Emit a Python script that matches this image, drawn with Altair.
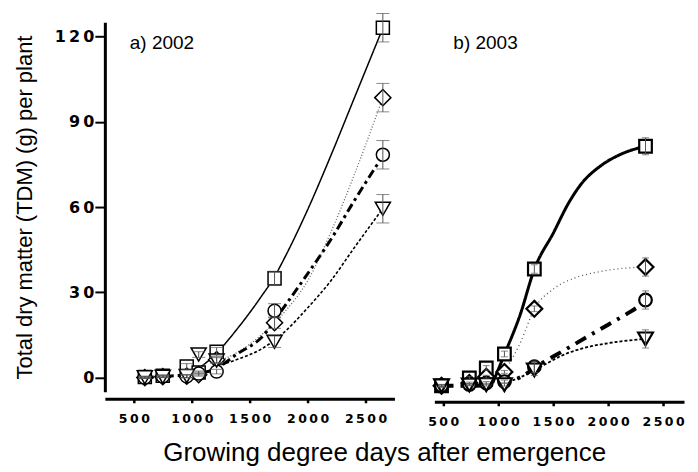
import altair as alt
import pandas as pd

# ---------------- a) 2002 : measured points ----------------
LEFT_GDD = [595, 750, 957, 1060, 1215, 1715, 2650]
L_SQUARE = [0.2, 0.6, 3.9, 1.8, 9.1, 34.9, 123.1]
L_SQUARE_ERR = [0.3, 0.4, 1.0, 0.5, 1.5, 2.5, 5.0]
L_DIAMOND = [0.0, 0.3, 0.5, 1.0, 6.3, 19.3, 98.5]
L_DIAMOND_ERR = [0.3, 0.3, 0.5, 0.5, 1.0, 2.0, 5.0]
L_CIRCLE = [0.0, 0.4, 0.4, 1.4, 2.1, 23.5, 78.4]
L_CIRCLE_ERR = [0.3, 0.3, 0.5, 0.5, 0.8, 2.5, 5.0]
L_TRIANGLE = [0.1, 0.3, 0.5, 8.1, 6.0, 12.6, 59.4]
L_TRIANGLE_ERR = [0.3, 0.3, 0.5, 1.0, 1.0, 2.0, 5.0]

# a) 2002 : fitted curves (read from the figure)
L_FIT_SQUARE_GDD = [1000, 1200, 1400, 1600, 1715, 1800, 2000, 2200, 2400, 2650]
L_FIT_SQUARE = [1.5, 8.0, 17.5, 28.5, 35.5, 42.0, 59.0, 78.0, 98.0, 123.0]
L_FIT_DIAMOND_GDD = [1215, 1400, 1600, 1800, 2000, 2200, 2400, 2650]
L_FIT_DIAMOND = [5.5, 9.0, 15.0, 23.0, 34.0, 51.0, 71.0, 98.5]
L_FIT_CIRCLE_GDD = [595, 800, 1000, 1200, 1400, 1600, 1800, 2000, 2200, 2400, 2650]
L_FIT_CIRCLE = [0.1, 0.5, 1.2, 3.0, 8.5, 14.0, 25.0, 36.5, 48.5, 62.0, 78.0]
L_FIT_TRIANGLE_GDD = [1215, 1400, 1600, 1800, 2000, 2200, 2400, 2650]
L_FIT_TRIANGLE = [4.0, 6.5, 10.0, 16.0, 24.5, 34.0, 45.5, 59.5]

# ---------------- b) 2003 : measured points ----------------
RIGHT_GDD = [485, 738, 892, 1057, 1329, 2340]
R_SQUARE = [0.0, 2.8, 6.3, 11.2, 41.1, 84.3]
R_SQUARE_ERR = [0.5, 0.5, 0.8, 1.0, 1.5, 3.0]
R_DIAMOND = [0.0, 1.0, 3.2, 4.9, 27.1, 41.8]
R_DIAMOND_ERR = [0.3, 0.3, 0.5, 0.5, 1.0, 3.2]
R_CIRCLE = [0.0, 0.5, 1.0, 1.5, 6.7, 30.2]
R_CIRCLE_ERR = [0.3, 0.3, 0.5, 0.5, 2.0, 3.2]
R_TRIANGLE = [0.0, 0.3, 0.4, 0.4, 5.6, 16.5]
R_TRIANGLE_ERR = [0.3, 0.3, 0.5, 0.5, 2.0, 3.2]

# b) 2003 : fitted curves
R_FIT_SQUARE_GDD = [950, 1057, 1200, 1329, 1505, 1636, 1755, 1936, 2117, 2340]
R_FIT_SQUARE = [1.0, 11.0, 25.0, 41.0, 54.0, 64.0, 71.0, 77.5, 81.5, 84.3]
R_FIT_DIAMOND_GDD = [1000, 1200, 1329, 1500, 1700, 1900, 2100, 2340]
R_FIT_DIAMOND = [2.0, 15.0, 27.0, 34.0, 38.0, 40.0, 41.2, 41.8]
R_FIT_CIRCLE_GDD = [485, 750, 1000, 1200, 1400, 1600, 1800, 2000, 2200, 2340]
R_FIT_CIRCLE = [0.0, 0.0, 0.5, 3.0, 8.0, 12.5, 17.0, 21.5, 26.0, 29.5]
R_FIT_TRIANGLE_GDD = [1000, 1200, 1400, 1600, 1800, 2000, 2200, 2340]
R_FIT_TRIANGLE = [0.3, 3.0, 7.0, 11.0, 13.5, 15.0, 16.0, 16.5]

PANEL_LABELS = ["a) 2002", "b) 2003"]
Y_TICKS = [0, 30, 60, 90, 120]
X_TICKS = [500, 1000, 1500, 2000, 2500]
Y_TITLE = "Total dry matter (TDM) (g) per plant"
X_TITLE = "Growing degree days after emergence"

SHAPES = {"square": "square", "diamond": "diamond", "circle": "circle", "triangle": "triangle-down"}
ORDER = ["square", "diamond", "circle", "triangle"]


def build_panel(gdd, series, errs, fits, xdom, ydom, width, label, left, style):
    xs = alt.Scale(domain=xdom, nice=False, zero=False)
    ys = alt.Scale(domain=ydom, nice=False, zero=False)
    xaxis = alt.Axis(values=X_TICKS, title=None, grid=False, domainWidth=3, domainColor="black",
                     tickWidth=2.5, tickSize=4, tickColor="black", labelFont="DejaVu Sans",
                     labelFontWeight="bold", labelFontSize=12.5, labelColor="black",
                     labelPadding=10, offset=style["xoff"], format="d",
                     labelExpr="join(split(format(datum.value, 'd'), ''), '\u2009')")
    if left:
        yaxis = alt.Axis(values=Y_TICKS, title=Y_TITLE, grid=False, domainWidth=3, domainColor="black",
                         tickWidth=2, tickSize=10, tickColor="black", labelFont="DejaVu Sans",
                         labelFontWeight="bold", labelFontSize=16, labelColor="black", labelPadding=1,
                         format="d",
                         labelExpr="join(split(format(datum.value, 'd'), ''), '\u2009')",
                         titleFont="Liberation Sans", titleFontSize=22, titleFontWeight="normal",
                         titleColor="black", titlePadding=18)
    else:
        yaxis = None
    layers = []
    for key in ORDER:
        fx, fy = fits[key]
        df = pd.DataFrame({"gdd": fx, "tdm": fy})
        st = style[key]
        layers.append(alt.Chart(df).mark_line(interpolate="monotone", color=st["color"],
                                              strokeWidth=st["w"], strokeDash=st["dash"]).encode(
            x=alt.X("gdd:Q", scale=xs, axis=xaxis), y=alt.Y("tdm:Q", scale=ys, axis=yaxis)))
    for key in ORDER:
        df = pd.DataFrame({"gdd": gdd, "tdm": series[key], "err": errs[key]})
        layers.append(alt.Chart(df).mark_point(shape=SHAPES[key], size=style["msize"][key], filled=True,
                                               fill="white", stroke="black", strokeWidth=style["mw"],
                                               opacity=1).encode(
            x=alt.X("gdd:Q", scale=xs, axis=xaxis), y=alt.Y("tdm:Q", scale=ys, axis=yaxis)))
    for key in ORDER:
        df = pd.DataFrame({"gdd": gdd, "tdm": series[key], "err": errs[key]})
        base = alt.Chart(df).transform_calculate(lo="datum.tdm - datum.err", hi="datum.tdm + datum.err")
        layers.append(base.mark_rule(color="#555555", strokeWidth=1).encode(
            x=alt.X("gdd:Q", scale=xs, axis=xaxis), y=alt.Y("lo:Q", scale=ys, axis=yaxis), y2="hi:Q"))
        layers.append(base.mark_tick(color="#555555", thickness=1, size=style["cap"], orient="horizontal").encode(
            x=alt.X("gdd:Q", scale=xs, axis=xaxis), y=alt.Y("lo:Q", scale=ys, axis=yaxis)))
        layers.append(base.mark_tick(color="#555555", thickness=1, size=style["cap"], orient="horizontal").encode(
            x=alt.X("gdd:Q", scale=xs, axis=xaxis), y=alt.Y("hi:Q", scale=ys, axis=yaxis)))
    lab = pd.DataFrame({"t": [label]})
    layers.append(alt.Chart(lab).mark_text(align="left", baseline="alphabetic", fontSize=19,
                                           font="Liberation Sans", color="black").encode(
        x=alt.value(style["lx"]), y=alt.value(27), text="t:N"))
    return alt.layer(*layers).properties(
        width=width, height=370,
        view=alt.ViewBackground(stroke="transparent", strokeWidth=0))


left_style = {
    "square": {"color": "black", "w": 1.5, "dash": [1, 0]},
    "diamond": {"color": "#666666", "w": 1.3, "dash": [1, 2]},
    "circle": {"color": "black", "w": 3, "dash": [9, 4, 3, 4]},
    "triangle": {"color": "black", "w": 1.6, "dash": [3, 2]},
    "msize": {"square": 170, "diamond": 260, "circle": 170, "triangle": 230},
    "mw": 1.5, "cap": 13, "xoff": 7, "lx": 25,
}
right_style = {
    "square": {"color": "black", "w": 3, "dash": [1, 0]},
    "diamond": {"color": "#555555", "w": 1.3, "dash": [1, 3]},
    "circle": {"color": "black", "w": 4, "dash": [12, 7, 3, 7]},
    "triangle": {"color": "black", "w": 1.8, "dash": [3, 2]},
    "msize": {"square": 160, "diamond": 250, "circle": 160, "triangle": 220},
    "mw": 2.2, "cap": 7, "xoff": 10, "lx": 19,
}

left = build_panel(
    LEFT_GDD,
    {"square": L_SQUARE, "diamond": L_DIAMOND, "circle": L_CIRCLE, "triangle": L_TRIANGLE},
    {"square": L_SQUARE_ERR, "diamond": L_DIAMOND_ERR, "circle": L_CIRCLE_ERR, "triangle": L_TRIANGLE_ERR},
    {"square": (L_FIT_SQUARE_GDD, L_FIT_SQUARE), "diamond": (L_FIT_DIAMOND_GDD, L_FIT_DIAMOND),
     "circle": (L_FIT_CIRCLE_GDD, L_FIT_CIRCLE), "triangle": (L_FIT_TRIANGLE_GDD, L_FIT_TRIANGLE)},
    [250, 2750], [-5, 125], 290, PANEL_LABELS[0], True, left_style)

right = build_panel(
    RIGHT_GDD,
    {"square": R_SQUARE, "diamond": R_DIAMOND, "circle": R_CIRCLE, "triangle": R_TRIANGLE},
    {"square": R_SQUARE_ERR, "diamond": R_DIAMOND_ERR, "circle": R_CIRCLE_ERR, "triangle": R_TRIANGLE_ERR},
    {"square": (R_FIT_SQUARE_GDD, R_FIT_SQUARE), "diamond": (R_FIT_DIAMOND_GDD, R_FIT_DIAMOND),
     "circle": (R_FIT_CIRCLE_GDD, R_FIT_CIRCLE), "triangle": (R_FIT_TRIANGLE_GDD, R_FIT_TRIANGLE)},
    [420, 2690], [-2.1, 127.9], 250, PANEL_LABELS[1], False, right_style)

chart = alt.hconcat(left, right, spacing=33).properties(
    title=alt.TitleParams(X_TITLE, orient="bottom", anchor="middle", fontSize=26,
                          font="Liberation Sans", fontWeight="normal", color="black", offset=12, dx=36),
    padding={"left": 5, "top": 4, "right": 5, "bottom": 5},
).configure_view(stroke="transparent", strokeWidth=0).configure(background="white")

chart.save("out.html", embed_options={"renderer": "svg", "actions": False})
